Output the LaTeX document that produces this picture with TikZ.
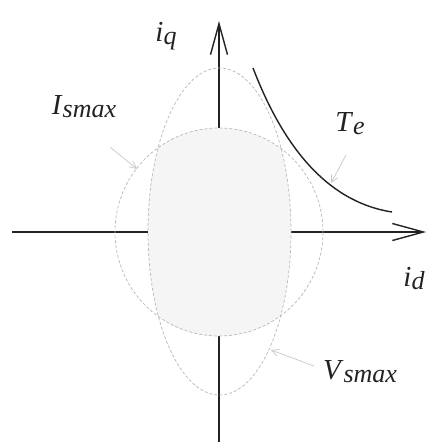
\documentclass[tikz,border=0pt]{standalone}
\usepackage{fontspec}
\setmainfont{Liberation Serif}
\usetikzlibrary{arrows.meta}
\newcommand\mylbl[2]{{\fontsize{29}{29}\selectfont\textit{#1}\raisebox{-3pt}{\fontsize{26}{26}\selectfont\textit{#2}}}}
\definecolor{ink}{HTML}{222222}
\definecolor{dashgray}{HTML}{B8B8B8}
\definecolor{ptrgray}{HTML}{C8C8C8}
\definecolor{regionfill}{HTML}{F5F5F5}
\tikzset{
  axisline/.style={draw=ink, line width=1.4pt, -{Straight Barb[length=31pt,width=17pt,line width=1.4pt]}},
  limitcurve/.style={draw=dashgray, line width=0.7pt, dash pattern=on 3pt off 2pt},
  pointer/.style={draw=ptrgray, line width=0.7pt, -{Straight Barb[length=7pt,width=7pt]}},
  torque/.style={draw=ink, line width=1.4pt},
  lbl/.style={inner sep=0pt, text=ink}
}
\begin{document}
\begin{tikzpicture}[x=1pt,y=-1pt]
\useasboundingbox[fill=white] (0,0) rectangle (431,442);
% axes
\coordinate (xl) at (12,232);
\coordinate (xr) at (426,232);
\coordinate (yb) at (219,442);
\coordinate (yt) at (219,21);
\draw[axisline] (xl) -- (xr);
\draw[axisline] (yb) -- (yt);
% feasible region: intersection of current circle and voltage ellipse
\coordinate (o) at (219,232);
\coordinate (oe) at (219.5,231.5);
\begin{scope}
  \clip (o) circle [radius=104pt];
  \fill[regionfill] (oe) ellipse [x radius=71.5pt, y radius=163.5pt];
\end{scope}
% limit curves
\draw[limitcurve] (o) circle [radius=104pt];
\draw[limitcurve] (oe) ellipse [x radius=71.5pt, y radius=163.5pt];
% torque hyperbola
\coordinate (ts) at (253,68);
\coordinate (te) at (392,212);
\draw[torque] (ts) .. controls (275,125) and (315,200) .. (te);
% labels
\node[lbl] (iq) at (166,36) {\mylbl{i}{q}};
\node[lbl] (id) at (414,279) {\mylbl{i}{d}};
\node[lbl] (Is) at (84,107) {\mylbl{I}{smax}};
\node[lbl] (Te) at (350,124) {\mylbl{T}{e}};
\node[lbl] (Vs) at (360,372) {\mylbl{V}{smax}};
% pointers
\coordinate (pIs0) at (110,147);
\coordinate (pIs1) at (137,169);
\coordinate (pTe0) at (346,155);
\coordinate (pTe1) at (331,183);
\coordinate (pVs0) at (314,366);
\coordinate (pVs1) at (271,350);
\draw[pointer] (pIs0) -- (pIs1);
\draw[pointer] (pTe0) -- (pTe1);
\draw[pointer] (pVs0) -- (pVs1);
\end{tikzpicture}
\end{document}
